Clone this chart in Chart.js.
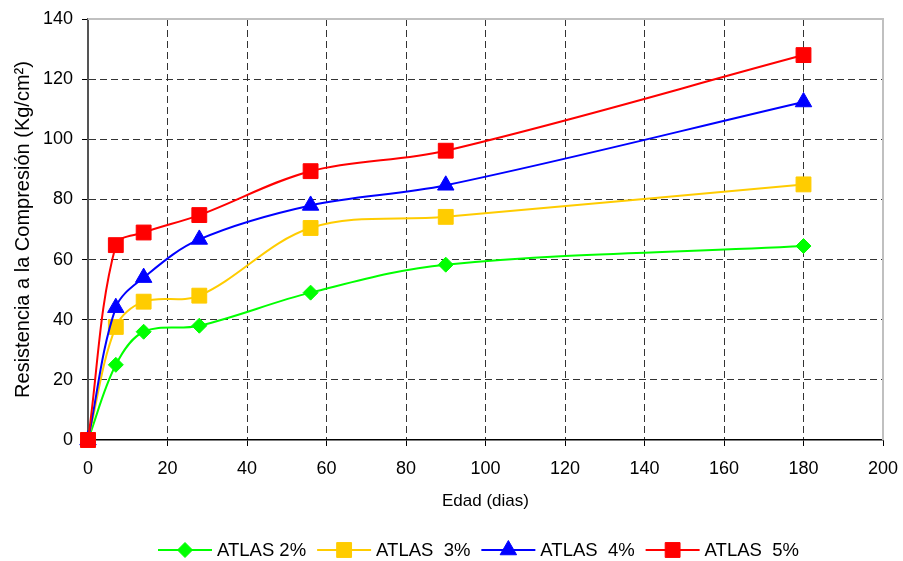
<!DOCTYPE html>
<html>
<head>
<meta charset="utf-8">
<script src="https://cdn.jsdelivr.net/npm/chart.js@4/dist/chart.umd.min.js"></script>
<style>
  html, body { margin: 0; padding: 0; background: #fff; }
  #wrap { width: 903px; height: 561px; }
</style>
</head>
<body>
<div id="wrap"><canvas id="chart" width="903" height="561"></canvas></div>
<script>
// ages (days) and compressive strength per mix
var dias = [0, 7, 14, 28, 56, 90, 180];
var atlas2 = [0, 25, 36, 38, 49, 58.3, 64.5];
var atlas3 = [0, 37.6, 46, 48, 70.5, 74.2, 85];
var atlas4 = [0, 44, 54, 66.7, 78, 84.7, 112.4];
var atlas5 = [0, 64.8, 69, 74.8, 89.4, 96.2, 128];
var labels = ['ATLAS 2%', 'ATLAS  3%', 'ATLAS  4%', 'ATLAS  5%'];

var colores = ['#00FF00', '#FFCC00', '#0000FF', '#FF0000'];
var marcas = ['rectRot', 'rect', 'triangle', 'rect'];
var radios = [7.5, 10.5, 9.5, 10.5];
var FONT = "'Liberation Sans', Arial, sans-serif";

function puntos(ys) {
  return dias.map(function(d, i) { return {x: d, y: ys[i]}; });
}

var series = [atlas2, atlas3, atlas4, atlas5];
var datasets = series.map(function(s, i) {
  return {
    label: labels[i],
    data: puntos(s),
    order: series.length - 1 - i, // red drawn on top, like the original
    borderColor: colores[i],
    backgroundColor: colores[i],
    borderWidth: 2,
    pointStyle: marcas[i],
    pointRadius: radios[i],
    pointBorderWidth: 1,
    pointBorderColor: colores[i],
    pointBackgroundColor: colores[i],
    tension: 0.35,
    clip: false
  };
});

// grey frame on top/right of plot + line/marker legend below
var extras = {
  id: 'extras',
  beforeDatasetsDraw: function(chart) {
    var a = chart.chartArea, ctx = chart.ctx;
    ctx.save();
    ctx.strokeStyle = '#c0c0c0';
    ctx.lineWidth = 2;
    ctx.beginPath();
    ctx.moveTo(a.left, a.top);
    ctx.lineTo(a.right, a.top);
    ctx.lineTo(a.right, a.bottom);
    ctx.stroke();
    ctx.restore();
  },
  afterDraw: function(chart) {
    var ctx = chart.ctx;
    ctx.save();
    ctx.font = '18.5px ' + FONT;
    ctx.textBaseline = 'middle';
    var x = 158, y = 550;
    labels.forEach(function(lbl, i) {
      ctx.strokeStyle = colores[i];
      ctx.fillStyle = colores[i];
      ctx.lineWidth = 2;
      ctx.beginPath();
      ctx.moveTo(x, y);
      ctx.lineTo(x + 54, y);
      ctx.stroke();
      ctx.lineWidth = 1;
      Chart.helpers.drawPoint(ctx, {
        pointStyle: marcas[i], radius: radios[i], borderWidth: 1, rotation: 0
      }, x + 27, y);
      ctx.fillStyle = '#000';
      ctx.fillText(lbl, x + 59, y + 1);
      x += 59 + ctx.measureText(lbl).width + 11;
    });
    ctx.restore();
  }
};

new Chart(document.getElementById('chart'), {
  type: 'line',
  data: { datasets: datasets },
  plugins: [extras],
  options: {
    responsive: false,
    animation: false,
    layout: { padding: { left: 0, top: 19, right: 20, bottom: 49 } },
    plugins: { legend: { display: false }, tooltip: { enabled: false } },
    scales: {
      x: {
        type: 'linear',
        min: 0, max: 200,
        ticks: { stepSize: 20, color: '#000', padding: 12, font: { family: FONT, size: 18 } },
        grid: {
          color: function(c) { return (c.tick.value === 0 || c.tick.value === 200) ? 'rgba(0,0,0,0)' : '#333'; },
          tickLength: 6,
          tickColor: '#000',
          lineWidth: 1
        },
        border: { color: '#000', width: 1.5, dash: [7, 4] },
        title: { display: true, text: 'Edad (dias)', color: '#000', font: { family: FONT, size: 17 }, padding: { top: 0, bottom: 0 } },
        afterFit: function(s) { s.height = 72; s.paddingLeft = 0; s.paddingRight = 0; }
      },
      y: {
        min: 0, max: 140,
        ticks: { stepSize: 20, color: '#000', padding: 9, font: { family: FONT, size: 18 } },
        grid: {
          color: function(c) { return (c.tick.value === 0 || c.tick.value === 140) ? 'rgba(0,0,0,0)' : '#333'; },
          tickLength: 6,
          tickColor: '#000',
          lineWidth: 1
        },
        border: { color: '#555', width: 2, dash: [7, 4] },
        title: { display: true, text: 'Resistencia a la Compresión (Kg/cm²)', color: '#000', font: { family: FONT, size: 20 }, padding: { top: 11, bottom: 0 } },
        afterFit: function(s) { s.width = 88; s.paddingTop = 0; s.paddingBottom = 0; }
      }
    }
  }
});
</script>
</body>
</html>
